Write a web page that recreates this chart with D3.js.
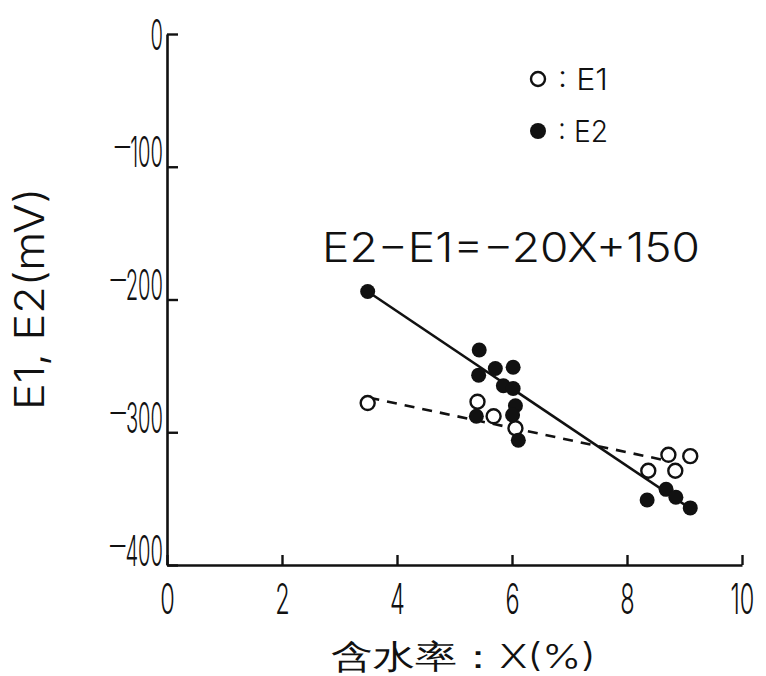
<!DOCTYPE html>
<html>
<head>
<meta charset="utf-8">
<script src="https://cdn.jsdelivr.net/npm/d3@7"></script>
<style>
  html, body { margin: 0; padding: 0; background: #fff; }
  svg { display: block; }
  text { fill: #111; font-family: Inter, "Liberation Sans", Arial, sans-serif; font-weight: 300; }
</style>
</head>
<body>
<svg id="chart" width="766" height="676"></svg>
<script>
// Water content X (%) and potentials E1 (open) / E2 (filled), in mV
const e1X = [3.49, 5.40, 5.68, 6.06, 8.37, 8.72, 8.84, 9.10];
const e1Y = [-278, -277, -288, -297, -329, -317, -329, -318];
const e2X = [3.49, 5.43, 5.42, 5.71, 6.02, 5.85, 6.02, 6.06, 6.01, 5.38, 6.11, 8.35, 8.68, 8.85, 9.10];
const e2Y = [-194, -238, -257, -252, -251, -265, -267, -280, -287, -288, -306, -351, -343, -349, -357];

// Fitted lines (end points)
const e1LineX = [3.52, 8.65];
const e1LineY = [-274, -321];
const e2LineX = [3.49, 9.12];
const e2LineY = [-194, -358];

const xTicks = [0, 2, 4, 6, 8, 10];
const yTicks = [0, -100, -200, -300, -400];
const legendLabels = [": E1", ": E2"];
const equationText = "E2\u2212E1=\u221220X+150";
const xTitle = "含水率：X(%)";
const yTitle = "E1, E2(mV)";

const svg = d3.select("#chart");
const x = d3.scaleLinear().domain([0, 10]).range([167, 742]);
const y = d3.scaleLinear().domain([-400, 0]).range([565, 34]);
const squeezeY = 0.48;
const squeezeX = 0.56;

// Y axis, ticks pointing inward
const gy = svg.append("g").attr("transform", `translate(${x(0)},0)`)
  .call(d3.axisLeft(y).tickValues(yTicks).tickSizeInner(-11).tickSizeOuter(0)
    .tickPadding(0).tickFormat(d => String(Math.abs(d))));
gy.select(".domain").attr("stroke", "#111").attr("stroke-width", 2.6);
gy.selectAll(".tick line").attr("stroke", "#111").attr("stroke-width", 2.4);
gy.selectAll(".tick text")
  .attr("font-size", 42).attr("font-family", null)
  .attr("fill", "#111")
  .attr("x", -4 / squeezeY).attr("dy", "0.38em")
  .attr("transform", `scale(${squeezeY},1)`)
  .each(function (d) {
    // negative labels: a long thin dash before the digits
    const t = d3.select(this);
    const digits = String(Math.abs(d));
    t.text(null);
    if (d < 0) {
      t.append("tspan").attr("font-size", 32).attr("dy", -10).text("\u2014");
      t.append("tspan").attr("dy", 10).text(digits);
    } else {
      t.append("tspan").text(digits);
    }
  });

// X axis, ticks pointing up
const gx = svg.append("g").attr("transform", `translate(0,${y(-400)})`)
  .call(d3.axisBottom(x).tickValues(xTicks).tickSizeInner(-10).tickSizeOuter(0)
    .tickPadding(0).tickFormat(d3.format("d")));
gx.select(".domain").attr("stroke", "#111").attr("stroke-width", 2.6);
gx.selectAll(".tick line").attr("stroke", "#111").attr("stroke-width", 2.4);
gx.selectAll(".tick text")
  .attr("font-size", 42).attr("font-family", null)
  .attr("fill", "#111")
  .attr("y", 49).attr("dy", 0)
  .attr("transform", `scale(${squeezeX},1)`);

// Fit lines
const line = d3.line().x(d => x(d[0])).y(d => y(d[1]));
svg.append("path")
  .attr("d", line(d3.zip(e2LineX, e2LineY)))
  .attr("fill", "none").attr("stroke", "#111").attr("stroke-width", 2.6);
svg.append("path")
  .attr("d", line(d3.zip(e1LineX, e1LineY)))
  .attr("fill", "none").attr("stroke", "#111").attr("stroke-width", 2.6)
  .attr("stroke-dasharray", "10,8");

// E1: open circles
svg.append("g").selectAll("circle").data(d3.zip(e1X, e1Y)).join("circle")
  .attr("cx", d => x(d[0])).attr("cy", d => y(d[1])).attr("r", 7)
  .attr("fill", "#fff").attr("stroke", "#111").attr("stroke-width", 2.4);

// E2: filled circles
svg.append("g").selectAll("circle").data(d3.zip(e2X, e2Y)).join("circle")
  .attr("cx", d => x(d[0])).attr("cy", d => y(d[1])).attr("r", 7.5)
  .attr("fill", "#111");

// Legend
const legend = svg.append("g");
legend.append("circle").attr("cx", 538).attr("cy", 79).attr("r", 7)
  .attr("fill", "#fff").attr("stroke", "#111").attr("stroke-width", 2.4);
legend.append("circle").attr("cx", 538).attr("cy", 131).attr("r", 8)
  .attr("fill", "#111");
legend.selectAll("text").data(legendLabels).join("text")
  .attr("x", 558).attr("y", (d, i) => 90 + i * 52)
  .attr("font-size", 30)
  .attr("textLength", 50).attr("lengthAdjust", "spacingAndGlyphs")
  .text(d => d);

// Regression equation
svg.append("text")
  .attr("x", 322).attr("y", 262)
  .attr("font-size", 41)
  .attr("textLength", 378).attr("lengthAdjust", "spacingAndGlyphs")
  .text(equationText);

// Axis titles
svg.append("text")
  .attr("x", 331).attr("y", 668)
  .attr("font-size", 33)
  .attr("font-family", "Noto Sans CJK JP, sans-serif")
  .attr("textLength", 265).attr("lengthAdjust", "spacingAndGlyphs")
  .text(xTitle);

svg.append("text")
  .attr("transform", "translate(44,410) rotate(-90)")
  .attr("x", 0).attr("y", 0)
  .attr("font-size", 41)
  .attr("textLength", 222).attr("lengthAdjust", "spacingAndGlyphs")
  .text(yTitle);
</script>
</body>
</html>
